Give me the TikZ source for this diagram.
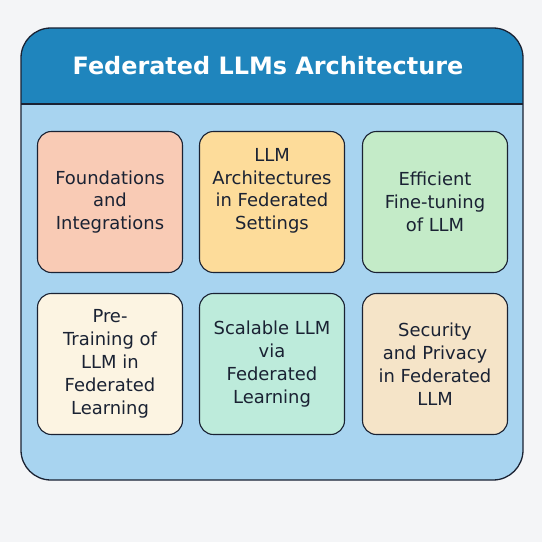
\documentclass[tikz,border=0pt]{standalone}
\usepackage{fontspec}
\setmainfont{DejaVu Sans}
\definecolor{pagebg}{HTML}{F4F5F7}
\definecolor{headblue}{HTML}{1F85BD}
\definecolor{bodyblue}{HTML}{A8D4F0}
\definecolor{ink}{HTML}{1A2233}
\definecolor{salmon}{HTML}{F9CBB5}
\definecolor{sand}{HTML}{FDDC9A}
\definecolor{mint}{HTML}{C4EBC8}
\definecolor{cream}{HTML}{FCF4E2}
\definecolor{aqua}{HTML}{BDEBDB}
\definecolor{beige}{HTML}{F5E4C8}
\tikzset{
  card/.style={draw=ink, line width=1.1pt, rounded corners=14pt,
    minimum width=145bp, minimum height=141bp, align=center,
    text=ink, font=\fontsize{18}{23}\selectfont}
}
\begin{document}
\begin{tikzpicture}[x=1bp,y=-1bp]
            \fill[pagebg] (0,0) rectangle (542,542);
            \useasboundingbox (0,0) rectangle (542,542);

            % frame
            \fill[bodyblue, rounded corners=30pt] (21,28) rectangle (523,480);
            \begin{scope}
              \clip[rounded corners=30pt] (21,28) rectangle (523,480);
              \fill[headblue] (21,28) rectangle (523,104);
            \end{scope}
            \draw[ink, line width=1.1pt] (21,104) -- (523,104);
            \draw[ink, line width=1.3pt, rounded corners=30pt] (21,28) rectangle (523,480);
            \node[text=white, font=\fontsize{24}{28}\selectfont\bfseries] (title) at (268,66) {Federated LLMs Architecture};

            % first row
            \node[card, fill=salmon] (A) at (110,202) {Foundations\\and\\Integrations};
            \node[card, fill=sand, text depth=26bp] (B) at (272,202) {LLM\\Architectures\\in Federated\\Settings};
            \node[card, fill=mint] (C) at (435,202) {Efficient\\Fine-tuning\\of LLM};

            % second row
            \node[card, fill=cream] (D) at (110,364) {Pre-\\Training of\\LLM in\\Federated\\Learning};
            \node[card, fill=aqua] (E) at (272,364) {Scalable LLM\\via\\Federated\\Learning};
            \node[card, fill=beige] (F) at (435,364) {Security\\and Privacy\\in Federated\\LLM};
\end{tikzpicture}
\end{document}
